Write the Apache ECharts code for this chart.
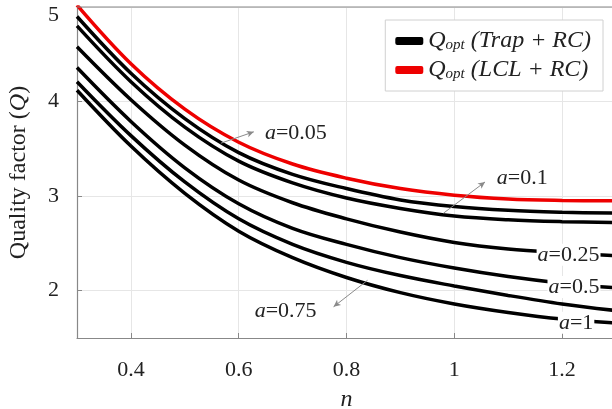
<!DOCTYPE html>
<html><head><meta charset="utf-8">
<script src="https://cdn.jsdelivr.net/npm/echarts@6/dist/echarts.min.js"></script>
<style>html,body{margin:0;padding:0;background:#fff}#c{width:612px;height:409px}</style>
</head><body><div id="c"></div>
<script>
// n values (x)
const nVals = [0.3, 0.4, 0.5, 0.6, 0.7, 0.8, 0.9, 1.0, 1.1, 1.2, 1.3];
// Q_opt (LCL + RC)
const qLCL  = [5.02, 4.40, 3.92, 3.57, 3.34, 3.19, 3.08, 3.01, 2.97, 2.955, 2.95];
// Q_opt (Trap + RC) for various a
const qA005 = [4.90, 4.30, 3.82, 3.46, 3.23, 3.08, 2.96, 2.89, 2.85, 2.83, 2.82];
const qA01  = [4.80, 4.21, 3.73, 3.37, 3.14, 2.98, 2.87, 2.79, 2.75, 2.73, 2.72];
const qA025 = [4.58, 4.02, 3.54, 3.17, 2.93, 2.76, 2.62, 2.51, 2.44, 2.40, 2.37];
const qA05  = [4.36, 3.79, 3.30, 2.92, 2.66, 2.49, 2.35, 2.24, 2.15, 2.08, 2.03];
const qA075 = [4.21, 3.64, 3.15, 2.76, 2.49, 2.30, 2.16, 2.05, 1.95, 1.86, 1.79];
const qA1   = [4.12, 3.53, 3.03, 2.63, 2.35, 2.14, 1.98, 1.86, 1.77, 1.70, 1.66];
const trapCurves = [qA005, qA01, qA025, qA05, qA075, qA1];
// tick labels
const xTicks = [0.4, 0.6, 0.8, 1, 1.2];
const yTicks = [2, 3, 4, 5];
// annotation texts and their anchor points (data space)
const annTexts = ['0.05', '0.1', '0.25', '0.5', '0.75', '1'];
const annAt    = [[0.706, 3.67], [1.126, 3.19], [1.212, 2.38], [1.222, 2.04], [0.687, 1.78], [1.226, 1.66]];
// arrows: from curve point to label point
const arrows = [
  [[0.567, 3.56], [0.628, 3.68]],
  [[0.980, 2.82], [1.057, 3.15]],
  [[0.839, 2.11], [0.776, 1.83]]
];
const arrowBend = [0.35, 0.45, -0.3];

const FONT = 'Liberation Serif';
const series = [];
trapCurves.forEach((arr) => {
  series.push({
    name: 'trap', type: 'line', smooth: 0.35, symbol: 'none',
    data: nVals.map((n, i) => [n, arr[i]]),
    lineStyle: { color: '#000', width: 3.5 }, itemStyle: { color: '#000' }, z: 2
  });
});
series.push({
  name: 'lcl', type: 'line', smooth: 0.35, symbol: 'none',
  data: nVals.map((n, i) => [n, qLCL[i]]),
  lineStyle: { color: '#ee0000', width: 3.5 }, itemStyle: { color: '#ee0000' }, z: 3,
  markLine: {
    silent: true, symbol: ['none', 'arrow'], symbolSize: [5, 7],
    label: { show: false },
    data: arrows.map((a, k) => [
      { coord: a[0], lineStyle: { color: '#8a8a8a', width: 1, type: 'solid', curveness: arrowBend[k] } },
      { coord: a[1] }
    ])
  },
  markPoint: {
    silent: true, symbol: 'rect', symbolSize: 1,
    itemStyle: { color: 'rgba(0,0,0,0)' },
    label: {
      show: true, position: 'inside', backgroundColor: '#fff', padding: [0, 1],
      fontFamily: FONT, fontSize: 22, color: '#222',
      rich: { i: { fontFamily: FONT, fontStyle: 'italic', fontSize: 22, color: '#222' },
              t: { fontFamily: FONT, fontSize: 22, color: '#222' } }
    },
    data: annTexts.map((t, i) => ({ coord: annAt[i], value: t, label: { formatter: '{i|a}{t|=' + t + '}' } }))
  }
});

const chart = echarts.init(document.getElementById('c'), null, { renderer: 'canvas' });
chart.setOption({
  animation: false,
  backgroundColor: '#fff',
  grid: { left: 77, top: 7, right: -4, bottom: 71, containLabel: false, outerBoundsMode: 'none' },
  legend: {
    data: ['trap', 'lcl'], orient: 'vertical', right: 9, top: 20,
    backgroundColor: '#fff', borderColor: '#d0d0d0', borderWidth: 1,
    padding: [9, 12, 9, 10], itemGap: 5, itemWidth: 28, itemHeight: 8, icon: 'roundRect',
    formatter: function (name) {
      return '{q|Q}{s|opt}{t| ' + (name === 'trap' ? '(Trap + RC)' : '(LCL + RC)') + '}';
    },
    textStyle: {
      fontFamily: FONT, fontStyle: 'italic', fontSize: 24, color: '#222',
      rich: {
        q: { fontFamily: FONT, fontStyle: 'italic', fontSize: 24, color: '#222' },
        s: { fontFamily: FONT, fontStyle: 'italic', fontSize: 15, color: '#222', verticalAlign: 'bottom', padding: [9, 0, 0, 0] },
        t: { fontFamily: FONT, fontStyle: 'italic', fontSize: 24, color: '#222' }
      }
    }
  },
  xAxis: {
    type: 'value', min: 0.3, max: 1.3, splitNumber: 5,
    name: 'n', nameLocation: 'middle', nameGap: 50,
    nameTextStyle: { fontFamily: FONT, fontStyle: 'italic', fontSize: 24, color: '#222' },
    axisLine: { show: true, onZero: false, lineStyle: { color: '#888', width: 1.2 } },
    axisTick: { show: true, inside: true, length: 5, lineStyle: { color: '#888' } },
    splitLine: { show: true, lineStyle: { color: '#e6e6e6', width: 1 } },
    axisLabel: {
      showMinLabel: false, showMaxLabel: false, margin: 21,
      fontFamily: FONT, fontSize: 22, color: '#222',
      formatter: v => (xTicks.some(t => Math.abs(t - v) < 1e-6) ? String(+v.toFixed(2)) : '')
    }
  },
  yAxis: {
    type: 'value', min: 1.5, max: 5, splitNumber: 3,
    name: '{t|Quality factor (}{i|Q}{t|)}', nameLocation: 'middle', nameGap: 46, nameRotate: 90,
    nameTextStyle: {
      fontFamily: FONT, fontSize: 24, color: '#222',
      rich: { t: { fontFamily: FONT, fontSize: 24, color: '#222' }, i: { fontFamily: FONT, fontStyle: 'italic', fontSize: 24, color: '#222' } }
    },
    axisLine: { show: true, onZero: false, lineStyle: { color: '#888', width: 1.2 } },
    axisTick: { show: true, inside: true, length: 5, lineStyle: { color: '#888' } },
    splitLine: { show: true, lineStyle: { color: '#e6e6e6', width: 1 } },
    axisLabel: {
      showMinLabel: false, margin: 18,
      fontFamily: FONT, fontSize: 22, color: '#222',
      rich: { top: { fontFamily: FONT, fontSize: 22, color: '#222', padding: [17, 0, 0, 0] } },
      formatter: v => (yTicks.some(t => Math.abs(t - v) < 1e-6) ? (v === 5 ? '{top|5}' : String(v)) : '')
    }
  },
  series: series
});
// top border line of the axes box
const topY = chart.convertToPixel({ yAxisIndex: 0 }, 5);
const leftX = chart.convertToPixel({ xAxisIndex: 0 }, 0.3);
chart.setOption({ graphic: [{ type: 'line', shape: { x1: leftX, y1: topY, x2: 612, y2: topY }, style: { stroke: '#888', lineWidth: 1.2 }, z: 10 }] });
</script></body></html>
